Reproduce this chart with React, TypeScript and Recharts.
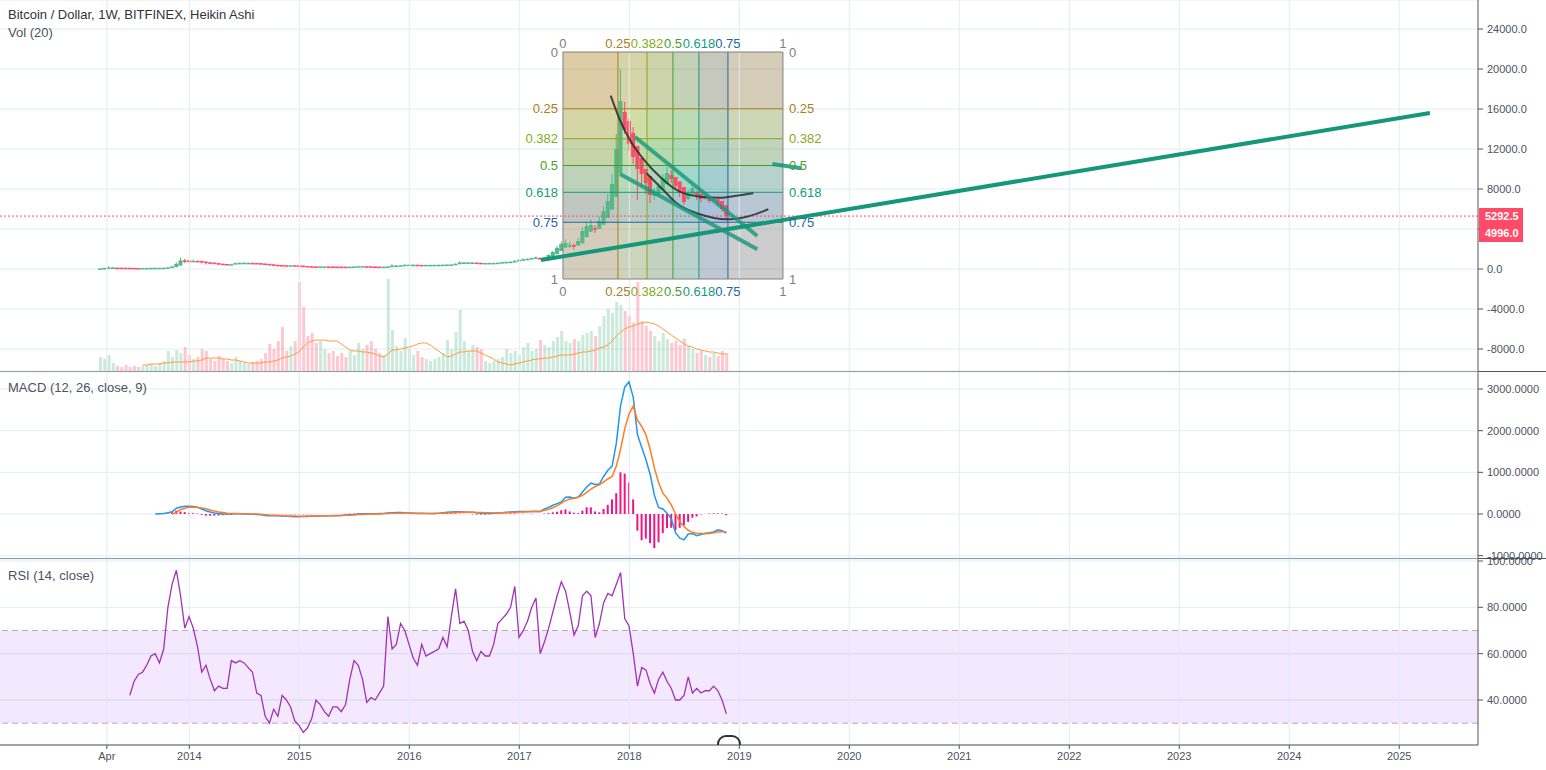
// BTC/USD weekly Heikin Ashi with volume, MACD and RSI panes (TradingView-style layout).
import React from "react";
import {
  ComposedChart,
  Bar,
  Line,
  XAxis,
  YAxis,
  CartesianGrid,
  ReferenceLine,
  ReferenceArea,
  ReferenceDot,
  Cell,
} from "recharts";

const FONT = "'Liberation Sans', Arial, sans-serif";
const W = 1546;
const AXIS_W = 68;
const X_MIN = 2012.279;
const X_MAX = 2025.716;

const GRID = "#e1ecf2";
const AXIS = "#50545c";
const TEXT = "#4c525e";
const GREEN = "#53b987";
const RED = "#ff4a68";
const VOL_GREEN = "rgba(83,185,135,0.3)";
const VOL_RED = "rgba(255,74,104,0.3)";

// one bar every two weeks, first one mid-March 2013
const T0 = 2013.19;
const STEP = 1 / 26;

const X_TICKS = [2013.25, 2014, 2015, 2016, 2017, 2018, 2019, 2020, 2021, 2022, 2023, 2024, 2025];

// Heikin Ashi candles (USD)
const HA_OPEN = [
  40, 50, 75, 118, 134, 130, 125, 121, 113, 101,
  95, 96, 99, 107, 115, 120, 124, 142, 191, 345,
  860, 850, 800, 810, 795, 740, 670, 635, 590, 530,
  500, 480, 482, 536, 573, 600, 610, 602, 586, 548,
  514, 467, 413, 392, 371, 370, 371, 355, 338, 294,
  270, 250, 245, 255, 255, 252, 241, 240, 237, 232,
  236, 245, 262, 273, 272, 251, 243, 237, 238, 249,
  295, 318, 344, 382, 406, 418, 409, 397, 403, 406,
  410, 415, 422, 433, 444, 482, 571, 610, 635, 642,
  618, 599, 600, 604, 607, 618, 654, 682, 706, 753,
  836, 908, 964, 1032, 1095, 1085, 1118, 1260, 1480, 1790,
  2150, 2375, 2390, 2345, 2570, 3185, 3740, 4070, 4035, 4420,
  5110, 5950, 7220, 9600, 15700, 14800, 13600, 12300, 11100, 10000,
  9300, 7300, 7450, 7900, 8500, 9400, 9200, 8750, 8200, 7000,
  7300, 7700, 7500, 7000, 7100, 6950, 6980, 6800, 6400,
];
const HA_CLOSE = [
  60, 100, 160, 150, 125, 120, 118, 105, 90, 90,
  97, 102, 115, 123, 125, 128, 160, 240, 500, 850,
  800, 750, 820, 780, 680, 600, 600, 540, 470, 470,
  460, 485, 590, 610, 625, 620, 595, 570, 510, 480,
  420, 360, 370, 350, 370, 372, 340, 320, 250, 245,
  230, 240, 265, 256, 250, 230, 238, 235, 228, 240,
  255, 280, 285, 270, 230, 235, 232, 240, 260, 340,
  340, 370, 420, 430, 430, 400, 385, 410, 410, 415,
  420, 430, 445, 455, 520, 660, 650, 660, 650, 595,
  580, 600, 608, 610, 630, 690, 710, 730, 800, 920,
  980, 1020, 1100, 1150, 1080, 1150, 1400, 1700, 2100, 2500,
  2600, 2400, 2300, 2800, 3800, 4300, 4400, 4000, 4800, 5800,
  6800, 8500, 12000, 16800, 13900, 12500, 11200, 10000, 9500, 8600,
  7400, 7600, 8300, 9100, 9600, 9000, 8300, 7600, 6700, 7600,
  8100, 7300, 7000, 7200, 6800, 7000, 6600, 6000, 5300,
];
const HA_HIGH = [
  70, 140, 260, 200, 140, 135, 130, 122, 113, 101,
  105, 110, 125, 130, 132, 140, 200, 320, 700, 1150,
  1000, 900, 950, 850, 800, 740, 680, 640, 590, 530,
  500, 520, 640, 660, 670, 650, 630, 610, 590, 550,
  514, 467, 420, 400, 420, 390, 375, 360, 340, 300,
  270, 260, 295, 275, 262, 255, 245, 248, 240, 250,
  265, 300, 310, 295, 272, 255, 245, 250, 275, 480,
  400, 400, 460, 465, 450, 430, 415, 440, 425, 425,
  430, 445, 460, 470, 560, 770, 700, 690, 680, 650,
  620, 615, 620, 620, 645, 720, 740, 760, 900, 1000,
  1050, 1060, 1150, 1250, 1180, 1210, 1450, 1800, 2300, 2750,
  2950, 2700, 2550, 3100, 4200, 4700, 4950, 4400, 5300, 6300,
  7500, 9500, 13500, 20000, 16700, 15000, 14200, 12300, 11100, 10000,
  9300, 8100, 8600, 9500, 10200, 9900, 9200, 8750, 8200, 7900,
  8400, 7800, 7500, 7400, 7200, 7200, 7000, 6800, 6400,
];
const HA_LOW = [
  35, 48, 70, 100, 100, 110, 105, 95, 70, 75,
  88, 94, 97, 105, 112, 115, 120, 140, 190, 340,
  600, 600, 780, 700, 550, 450, 550, 500, 400, 430,
  420, 440, 480, 530, 570, 580, 570, 540, 470, 450,
  380, 290, 330, 320, 350, 340, 310, 300, 170, 210,
  200, 215, 240, 240, 235, 215, 225, 228, 220, 225,
  233, 243, 260, 255, 200, 225, 225, 232, 236, 247,
  290, 310, 340, 380, 400, 370, 360, 390, 395, 400,
  405, 412, 420, 430, 440, 480, 560, 600, 610, 520,
  560, 585, 595, 600, 605, 615, 650, 680, 700, 750,
  830, 900, 960, 1030, 960, 1080, 1110, 1250, 1470, 1780,
  2140, 2100, 1950, 2340, 2560, 3180, 3700, 3600, 4000, 4400,
  5100, 5940, 7200, 9500, 13500, 11800, 10500, 6900, 8200, 7500,
  6600, 6900, 7400, 7850, 8450, 8600, 8000, 7200, 6400, 6900,
  7250, 6900, 6700, 6900, 6600, 6800, 6300, 5700, 5000,
];

// volume (relative units) and its 20-period average
const VOLUME = [
  14, 12, 16, 8, 5, 4, 6, 4, 5, 4,
  5, 6, 7, 5, 8, 10, 20, 14, 21, 18,
  24, 16, 12, 14, 22, 20, 12, 10, 15, 12,
  10, 8, 14, 10, 8, 7, 9, 10, 12, 18,
  27, 22, 30, 44, 20, 25, 30, 89, 64, 35,
  38, 28, 30, 22, 18, 20, 15, 18, 14, 20,
  16, 28, 22, 26, 30, 22, 18, 16, 92, 41,
  25, 20, 33, 22, 16, 20, 14, 12, 10, 12,
  14, 18, 31, 22, 39, 61, 30, 20, 26, 24,
  22, 10, 8, 10, 12, 14, 22, 18, 20, 16,
  24, 28, 20, 22, 31, 26, 24, 30, 34, 40,
  30, 28, 32, 30, 36, 38, 40, 35, 45, 55,
  62, 58, 69, 66, 60, 55, 48, 89, 50, 45,
  40, 35, 30, 38, 32, 28, 30, 26, 32, 25,
  22, 18, 20, 16, 14, 18, 15, 20, 18,
];
const VMA_START = 10;
const VOL_MA = [
  6, 6, 7, 7, 7, 8, 8, 9, 9, 9,
  9, 9, 10, 10, 11, 13, 13, 13, 13, 12,
  12, 11, 11, 10, 9, 8, 8, 8, 8, 9,
  9, 10, 11, 13, 14, 15, 17, 19, 24, 28,
  30, 31, 31, 31, 30, 30, 30, 27, 24, 21,
  20, 20, 19, 19, 18, 17, 15, 14, 17, 21,
  21, 22, 23, 24, 25, 27, 28, 28, 26, 23,
  20, 17, 14, 15, 17, 19, 19, 20, 20, 20,
  18, 16, 14, 12, 9, 8, 7, 6, 7, 8,
  9, 10, 11, 12, 12, 13, 13, 14, 15, 16,
  16, 16, 17, 18, 19, 19, 20, 21, 23, 24,
  26, 30, 35, 39, 42, 44, 45, 47, 48, 49,
  48, 47, 45, 42, 39, 36, 33, 30, 27, 25,
  24, 22, 21, 20, 19, 19, 18, 17, 17,
];

// MACD (12, 26, close, 9)
const MACD_START = 13;
const MACD = [
  0, 5, 10, 30, 55, 140, 170,
  185, 185, 180, 160, 120, 80, 50, 25, 10, 0,
  0, 0, 5, 5, 0, 0, -5, -10, -20, -35,
  -40, -40, -45, -50, -55, -60, -65, -65, -60, -60,
  -55, -50, -45, -45, -40, -40, -38, -35, -25, -15,
  -10, 0, 5, 5, 0, 5, 10, 15, 25, 30,
  35, 35, 30, 25, 20, 15, 15, 15, 15, 15,
  20, 30, 40, 50, 55, 55, 50, 45, 40, 30,
  20, 15, 15, 20, 25, 30, 40, 50, 55, 60,
  60, 60, 60, 65, 60, 120, 160, 210, 250, 290,
  400, 410, 380, 400, 530, 650, 740, 710, 720, 900,
  1050, 1150, 1700, 2600, 3050, 3170, 2800, 1900, 1600, 1300,
  950, 450, 150, 120, 20, -120, -450, -580, -620, -480,
  -470, -520, -490, -460, -450, -430, -380, -400, -460,
];
const SIG_START = 17;
const SIGNAL = [
  0, 40, 110,
  140, 160, 160, 155, 145, 125, 95, 70, 50, 35,
  20, 15, 12, 8, 5, 3, 0, 0, -5, -15,
  -25, -30, -35, -40, -45, -48, -50, -52, -52, -50,
  -50, -48, -46, -45, -43, -42, -40, -38, -33, -28,
  -22, -15, -10, -8, -5, -2, 2, 5, 10, 15,
  18, 20, 22, 23, 20, 18, 16, 15, 15, 15,
  16, 18, 22, 28, 35, 40, 42, 42, 40, 38,
  35, 30, 28, 27, 27, 28, 30, 35, 40, 45,
  50, 55, 58, 60, 60, 90, 115, 150, 200, 260,
  320, 360, 380, 410, 450, 520, 600, 660, 700, 770,
  840, 900, 1150, 1550, 2050, 2400, 2590, 2250, 2100, 1900,
  1550, 1100, 750, 500, 375, 220, 0, -185, -300, -390,
  -440, -465, -470, -475, -470, -450, -430, -425, -425,
];
const HIST_START = 16;
const HIST = [
  15, 40, 80, 60,
  45, 25, 20, 10, -20, -40, -40, -40, -35, -30,
  -20, -15, -10, -5, -5, 0, 0, 0, 0, -5,
  -5, -5, -5, -5, -5, -8, -8, -8, -5, -5,
  -5, -2, 0, 0, 0, 0, 0, 0, 5, 8,
  10, 15, 12, 5, 5, 8, 10, 15, 15, 17,
  15, 8, 2, 0, -3, -1, 0, 0, 0, 4,
  12, 18, 22, 20, 15, 8, 3, 0, -8, -15,
  -15, -13, -7, -2, 2, 10, 15, 15, 15, 10,
  5, 2, 5, 0, 0, 10, 20, 40, 55, 90,
  112, 60, 30, 20, 80, 160, 160, 60, 40, 120,
  220, 350, 500, 1000, 970, 750, 350, -400, -630, -590,
  -700, -820, -680, -460, -340, -330, -390, -330, -270, -190,
  -90, -60, -10, 0, 10, 15, 15, 10, -30,
];

// RSI (14, close)
const RSI_START = 7;
const RSI = [
  42, 48, 51,
  52, 55, 59, 60, 56, 62, 80, 90, 96, 85,
  71, 76, 71, 63, 52, 55, 49, 44, 46, 45,
  45, 57, 56, 57, 56, 54, 52, 43, 42, 33,
  30, 36, 33, 42, 40, 37, 31, 29, 26, 28,
  32, 40, 38, 35, 33, 37, 37, 35, 38, 49,
  57, 55, 49, 39, 41, 40, 43, 46, 76, 62,
  64, 73, 70, 64, 58, 55, 64, 59, 60, 61,
  62, 67, 63, 76, 88, 73, 74, 70, 61, 57,
  61, 59, 59, 64, 73, 75, 77, 80, 89, 67,
  70, 74, 80, 84, 60, 65, 71, 78, 85, 91,
  87, 78, 68, 72, 85, 87, 85, 67, 73, 82,
  86, 85, 90, 95, 75, 72, 60, 46, 54, 53,
  47, 43, 49, 52, 48, 45, 40, 40, 42, 50,
  43, 45, 43, 44, 44, 46, 44, 40, 34,
];

// axis ticks
const PRICE_TICKS = [-8000, -4000, 0, 4000, 8000, 12000, 16000, 20000, 24000];
const PRICE_TICK_HIDDEN = 4000; // its label sits under the last-price tag
const MACD_TICKS = [-1000, 0, 1000, 2000, 3000];
const RSI_TICKS = [40, 60, 80, 100];

// fib speed resistance grid drawn on the price pane
const FIB_LEVELS = [0, 0.25, 0.382, 0.5, 0.618, 0.75, 1];
const FIB_LABELS = ["0", "0.25", "0.382", "0.5", "0.618", "0.75", "1"];
const FIB_COLORS = ["#808080", "#a8801e", "#86a81c", "#43a02e", "#129c78", "#2366a0", "#808080"];
const FIB_LEFT = 2017.397;
const FIB_RIGHT = 2019.397;
const FIB_TOP = 21700;
const FIB_BOTTOM = -1000;

// hand-drawn trend lines [year, price] pairs
const TREND_LINES = [
  { a: [2017.197, 900], b: [2025.279, 15600], opacity: 1 },
  { a: [2018.052, 13200], b: [2019.164, 3300], opacity: 0.8 },
  { a: [2017.915, 9500], b: [2019.164, 1970], opacity: 0.8 },
  { a: [2019.3, 10500], b: [2019.567, 10070], opacity: 0.85 },
];
const ARC_UPPER = [
  { t: 2017.831, y: 17330 },
  { t: 2017.915, y: 14900 },
  { t: 2018.006, y: 12900 },
  { t: 2018.158, y: 10600 },
  { t: 2018.279, y: 9230 },
  { t: 2018.431, y: 7900 },
  { t: 2018.643, y: 7230 },
  { t: 2018.825, y: 7130 },
  { t: 2018.976, y: 7330 },
  { t: 2019.127, y: 7570 },
];
const ARC_LOWER = [
  { t: 2018.158, y: 9570 },
  { t: 2018.309, y: 7900 },
  { t: 2018.431, y: 6570 },
  { t: 2018.643, y: 5470 },
  { t: 2018.885, y: 4970 },
  { t: 2019.067, y: 5230 },
  { t: 2019.264, y: 5970 },
];

const LAST_CLOSE = 5292.5;

const rows = HA_CLOSE.map((c, i) => ({
  t: T0 + i * STEP,
  o: HA_OPEN[i],
  c,
  h: HA_HIGH[i],
  l: HA_LOW[i],
  vol: VOLUME[i],
  vma: i >= VMA_START ? VOL_MA[i - VMA_START] : null,
  macd: i >= MACD_START ? MACD[i - MACD_START] : null,
  sig: i >= SIG_START ? SIGNAL[i - SIG_START] : null,
  hist: i >= HIST_START ? HIST[i - HIST_START] : null,
  rsi: i >= RSI_START ? RSI[i - RSI_START] : null,
}));

const fibX = (f: number) => FIB_LEFT + f * (FIB_RIGHT - FIB_LEFT);
const fibY = (f: number) => FIB_TOP + f * (FIB_BOTTOM - FIB_TOP);

const axisTick = { fontSize: 11, fill: TEXT, fontFamily: FONT };

// wick + body drawn inside the [low, high] range bar
function Candle(props: any) {
  const { x, y, width, height, payload } = props;
  if (x == null || y == null || !payload) return null;
  const { o, c, h, l } = payload;
  const k = h > l ? height / (h - l) : 0;
  const cx = x + width / 2;
  const yo = y + (h - o) * k;
  const yc = y + (h - c) * k;
  const color = c >= o ? GREEN : RED;
  return (
    <g>
      <line x1={cx} x2={cx} y1={y} y2={y + height} stroke={color} strokeWidth={1} />
      <rect x={cx - 2} y={Math.min(yo, yc)} width={4} height={Math.max(1.5, Math.abs(yc - yo))} fill={color} />
    </g>
  );
}

function yearLines() {
  return X_TICKS.map((yr) => (
    <ReferenceLine key={"g" + yr} x={yr} stroke={GRID} strokeWidth={1} />
  ));
}

function PricePane() {
  return (
    <ComposedChart width={W} height={371} data={rows} margin={{ top: 0, right: 0, bottom: 0, left: 0 }}>
      <CartesianGrid stroke={GRID} vertical={false} />
      <XAxis dataKey="t" type="number" domain={[X_MIN, X_MAX]} hide allowDataOverflow />
      <XAxis xAxisId="vx" dataKey="t" type="number" domain={[X_MIN, X_MAX]} hide allowDataOverflow />
      <XAxis xAxisId="ax" dataKey="t" type="number" domain={[X_MIN, X_MAX]} hide allowDataOverflow />
      <YAxis
        orientation="right"
        width={AXIS_W}
        type="number"
        domain={[-10200, 26900]}
        allowDataOverflow
        ticks={PRICE_TICKS}
        interval={0}
        tickFormatter={(v: number) => (v === PRICE_TICK_HIDDEN ? "" : v.toFixed(1))}
        tick={axisTick}
        tickSize={5}
        tickMargin={4}
        axisLine={{ stroke: AXIS }}
        tickLine={{ stroke: AXIS }}
      />
      <YAxis yAxisId="vol" hide domain={[0, 371]} allowDataOverflow />
      {yearLines()}

      {/* fib grid fills: vertical bands then horizontal bands */}
      {FIB_LEVELS.slice(1).map((lv, k) => (
        <ReferenceArea
          key={"fv" + k}
          x1={fibX(FIB_LEVELS[k])}
          x2={fibX(lv)}
          y1={FIB_BOTTOM}
          y2={FIB_TOP}
          fill={FIB_COLORS[k + 1]}
          fillOpacity={0.22}
          stroke="none"
          ifOverflow="visible"
        />
      ))}
      {FIB_LEVELS.slice(1).map((lv, k) => (
        <ReferenceArea
          key={"fh" + k}
          x1={FIB_LEFT}
          x2={FIB_RIGHT}
          y1={fibY(FIB_LEVELS[k])}
          y2={fibY(lv)}
          fill={FIB_COLORS[k + 1]}
          fillOpacity={0.22}
          stroke="none"
          ifOverflow="visible"
        />
      ))}

      <Bar xAxisId="vx" yAxisId="vol" dataKey="vol" barSize={3} isAnimationActive={false}>
        {rows.map((r, i) => (
          <Cell key={i} fill={r.c >= r.o ? VOL_GREEN : VOL_RED} />
        ))}
      </Bar>
      <Line
        xAxisId="vx"
        yAxisId="vol"
        dataKey="vma"
        stroke="#ff9a3c"
        strokeWidth={1}
        dot={false}
        activeDot={false}
        isAnimationActive={false}
      />

      {FIB_LEVELS.map((lv, k) => (
        <ReferenceLine
          key={"lv" + k}
          segment={[{ x: fibX(lv), y: FIB_TOP }, { x: fibX(lv), y: FIB_BOTTOM }]}
          stroke={FIB_COLORS[k]}
          strokeWidth={1}
          ifOverflow="visible"
        />
      ))}
      {FIB_LEVELS.map((lv, k) => (
        <ReferenceLine
          key={"lh" + k}
          segment={[{ x: FIB_LEFT, y: fibY(lv) }, { x: FIB_RIGHT, y: fibY(lv) }]}
          stroke={FIB_COLORS[k]}
          strokeWidth={1}
          ifOverflow="visible"
        />
      ))}

      <Bar dataKey={(d: any) => [d.l, d.h]} barSize={4} shape={(p: any) => <Candle {...p} />} isAnimationActive={false} />

      <ReferenceLine y={LAST_CLOSE} stroke={RED} strokeDasharray="2 2" strokeWidth={1} />

      <Line xAxisId="ax" data={ARC_UPPER} dataKey="y" type="monotone" stroke="#2b2b2b" strokeOpacity={0.85} strokeWidth={2} dot={false} activeDot={false} isAnimationActive={false} />
      <Line xAxisId="ax" data={ARC_LOWER} dataKey="y" type="monotone" stroke="#2b2b2b" strokeOpacity={0.85} strokeWidth={2} dot={false} activeDot={false} isAnimationActive={false} />

      {TREND_LINES.map((s, k) => (
        <ReferenceLine
          key={"tl" + k}
          segment={[{ x: s.a[0], y: s.a[1] }, { x: s.b[0], y: s.b[1] }]}
          stroke="#15977a"
          strokeOpacity={s.opacity}
          strokeWidth={4}
          ifOverflow="visible"
        />
      ))}

      {FIB_LEVELS.map((lv, k) => {
        const fill = FIB_COLORS[k];
        const base = { r: 0, fill: "none", stroke: "none", ifOverflow: "visible" as const };
        const lab = { value: FIB_LABELS[k], fill, fontSize: 13, fontFamily: FONT };
        return (
          <React.Fragment key={"fl" + k}>
            <ReferenceDot {...base} x={FIB_LEFT} y={fibY(lv)} label={{ ...lab, position: "left", offset: 5 }} />
            <ReferenceDot {...base} x={FIB_RIGHT} y={fibY(lv)} label={{ ...lab, position: "right", offset: 6 }} />
            <ReferenceDot {...base} x={fibX(lv)} y={FIB_TOP} label={{ ...lab, position: "top", offset: 4 }} />
            <ReferenceDot {...base} x={fibX(lv)} y={FIB_BOTTOM} label={{ ...lab, position: "bottom", offset: 8 }} />
          </React.Fragment>
        );
      })}
    </ComposedChart>
  );
}

function MacdPane() {
  return (
    <ComposedChart width={W} height={186} data={rows} margin={{ top: 0, right: 0, bottom: 0, left: 0 }}>
      <CartesianGrid stroke={GRID} vertical={false} />
      <XAxis dataKey="t" type="number" domain={[X_MIN, X_MAX]} hide allowDataOverflow />
      <YAxis
        orientation="right"
        width={AXIS_W}
        type="number"
        domain={[-1056, 3408]}
        allowDataOverflow
        ticks={MACD_TICKS}
        interval={0}
        tickFormatter={(v: number) => v.toFixed(4)}
        tick={axisTick}
        tickSize={5}
        tickMargin={4}
        axisLine={{ stroke: AXIS }}
        tickLine={{ stroke: AXIS }}
      />
      {yearLines()}
      <Bar dataKey="hist" barSize={2} fill="#ee1580" isAnimationActive={false} />
      <Line dataKey="macd" stroke="#2196f3" strokeWidth={1.5} dot={false} activeDot={false} isAnimationActive={false} />
      <Line dataKey="sig" stroke="#ff7c24" strokeWidth={1.5} dot={false} activeDot={false} isAnimationActive={false} />
    </ComposedChart>
  );
}

function RsiPane() {
  return (
    <ComposedChart width={W} height={211} data={rows} margin={{ top: 0, right: 0, bottom: 0, left: 0 }}>
      <CartesianGrid stroke={GRID} vertical={false} />
      <XAxis
        dataKey="t"
        type="number"
        domain={[X_MIN, X_MAX]}
        allowDataOverflow
        ticks={X_TICKS}
        interval={0}
        height={25}
        tickFormatter={(v: number) => (v < 2014 ? "Apr" : String(Math.round(v)))}
        tick={axisTick}
        tickSize={4}
        tickMargin={3}
        axisLine={{ stroke: AXIS }}
        tickLine={{ stroke: AXIS }}
      />
      <YAxis
        orientation="right"
        width={AXIS_W}
        type="number"
        domain={[20.58, 100.86]}
        allowDataOverflow
        ticks={RSI_TICKS}
        interval={0}
        tickFormatter={(v: number) => v.toFixed(4)}
        tick={axisTick}
        tickSize={5}
        tickMargin={4}
        axisLine={{ stroke: AXIS }}
        tickLine={{ stroke: AXIS }}
      />
      {yearLines()}
      <ReferenceArea y1={30} y2={70} fill="#8a1ee8" fillOpacity={0.1} stroke="none" />
      <ReferenceLine y={70} stroke="#b8aabc" strokeDasharray="6 4" />
      <ReferenceLine y={30} stroke="#b8aabc" strokeDasharray="6 4" />
      <Line dataKey="rsi" stroke="#a033b4" strokeWidth={1.3} dot={false} activeDot={false} isAnimationActive={false} />
    </ComposedChart>
  );
}

const paneText = { position: "absolute" as const, left: 8, fontSize: 13, color: TEXT, fontFamily: FONT, whiteSpace: "nowrap" as const, lineHeight: "16px" };

export default function App() {
  return (
    <div style={{ position: "absolute", left: 0, top: 0, width: W, height: 770, background: "#fff", overflow: "hidden", fontFamily: FONT }}>
      {/* let the edge tick labels of the lower panes spill across the divider, as in the terminal */}
      <style>{".recharts-surface, .recharts-wrapper { overflow: visible !important; }"}</style>
      <div style={{ position: "absolute", left: 0, top: 0 }}>
        <PricePane />
      </div>
      <div style={{ position: "absolute", left: 0, top: 371, width: W, height: 1, background: AXIS }} />
      <div style={{ position: "absolute", left: 0, top: 372 }}>
        <MacdPane />
      </div>
      <div style={{ position: "absolute", left: 0, top: 558, width: W, height: 1, background: AXIS }} />
      <div style={{ position: "absolute", left: 0, top: 559 }}>
        <RsiPane />
      </div>

      <div style={{ ...paneText, top: 7, color: "#2f333b" }}>Bitcoin / Dollar, 1W, BITFINEX, Heikin Ashi</div>
      <div style={{ ...paneText, top: 25 }}>Vol (20)</div>
      <div style={{ ...paneText, top: 380 }}>MACD (12, 26, close, 9)</div>
      <div style={{ ...paneText, top: 568 }}>RSI (14, close)</div>

      <div
        style={{
          position: "absolute",
          left: 1479,
          top: 208,
          width: 44,
          height: 34,
          background: RED,
          color: "#fff",
          fontSize: 11,
          fontWeight: 700,
          fontFamily: FONT,
          lineHeight: "17px",
          paddingLeft: 6,
          boxSizing: "border-box",
        }}
      >
        <div>5292.5</div>
        <div>4996.0</div>
      </div>

      <div
        style={{
          position: "absolute",
          left: 717,
          top: 735,
          width: 24,
          height: 10,
          border: "2px solid #333",
          borderBottom: "none",
          borderRadius: "9px 9px 0 0",
          boxSizing: "border-box",
        }}
      />
    </div>
  );
}
